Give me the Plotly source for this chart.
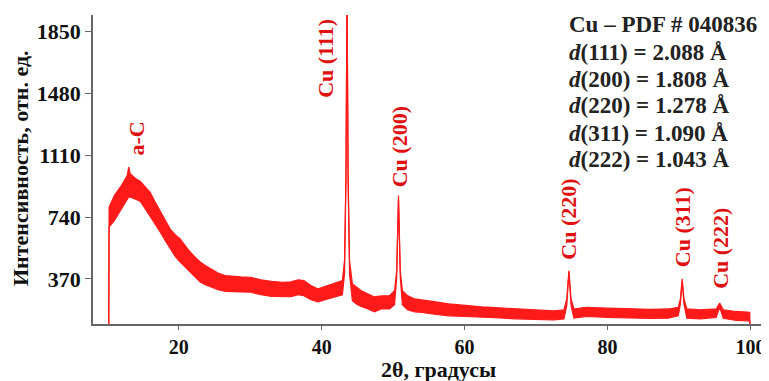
import plotly.graph_objects as go

# 2theta grid (degrees) and envelope of the noisy XRD band (arb. units)
two_theta = [10.2, 10.25, 11.0, 12.0, 12.8, 13.0, 13.2, 14.0, 14.6, 15.3, 16.0, 16.7, 17.4, 18.1,
             18.8, 19.5, 20.2, 20.9, 21.6, 22.3, 23.0, 23.7, 24.5, 25.5, 26.5, 27.5, 28.7, 30.1,
             31.5, 33.0, 34.5, 35.7, 36.7, 37.5, 38.5, 39.5, 40.5, 41.5, 42.3, 42.9,
             43.2, 43.4, 43.55, 43.7, 43.9, 44.3, 44.85, 45.5, 46.5, 47.4, 48.4, 49.5,
             50.2, 50.5, 50.75, 51.0, 51.3, 52.0, 53.0, 54.0, 55.5, 57.8, 60.0, 62.4, 65.0,
             67.0, 70.0, 72.5, 73.9, 74.3, 74.6, 74.9, 75.3, 77.0, 80.0, 83.0, 86.0, 88.5,
             89.9, 90.2, 90.45, 90.7, 91.1, 93.0, 95.2, 95.7, 96.2, 98.0, 99.9, 100.0]
upper = [0, 800, 870, 930, 990, 1040, 1000, 970, 955, 920, 889, 830, 776, 720,
         668, 635, 609, 570, 531, 500, 471, 450, 430, 405, 390, 385, 382, 380,
         365, 355, 350, 352, 365, 360, 330, 310, 325, 340, 350, 360,
         480, 1000, 2100, 1000, 480, 340, 322, 300, 280, 262, 268, 270,
         300, 420, 870, 420, 300, 270, 250, 245, 235, 220, 210, 203, 196,
         191, 183, 178, 185, 250, 420, 250, 190, 200, 195, 190, 188, 190,
         200, 250, 370, 250, 190, 185, 190, 225, 185, 175, 170, 0]
lower = [0, 680, 720, 790, 850, 860, 860, 845, 836, 790, 746, 700, 651, 600,
         549, 505, 471, 440, 412, 380, 352, 335, 322, 305, 295, 292, 292, 290,
         275, 265, 262, 263, 275, 270, 245, 233, 245, 258, 265, 275,
         400, 950, 2100, 950, 400, 240, 220, 205, 190, 173, 191, 190,
         215, 380, 850, 380, 215, 185, 173, 170, 160, 149, 146, 143, 136,
         131, 127, 125, 130, 210, 410, 210, 135, 145, 140, 135, 133, 135,
         150, 220, 360, 220, 135, 130, 140, 200, 135, 122, 118, 0]

# peak labels
peak_labels = ["a-C", "Cu (111)", "Cu (200)", "Cu (220)", "Cu (311)", "Cu (222)"]
peak_label_x = [14.05, 40.6, 50.9, 74.5, 90.6, 95.8]
peak_label_y = [1098, 1445, 907, 471, 430, 298]

info_lines = ["<b>Cu – PDF # 040836</b>",
              "<b><i>d</i>(111) = 2.088 Å</b>",
              "<b><i>d</i>(200) = 1.808 Å</b>",
              "<b><i>d</i>(220) = 1.278 Å</b>",
              "<b><i>d</i>(311) = 1.090 Å</b>",
              "<b><i>d</i>(222) = 1.043 Å</b>"]

y_ticks = [370, 740, 1110, 1480, 1850]
x_ticks = [20, 40, 60, 80, 100]
x_title = "<b>2θ, градусы</b>"
y_title = "<b>Интенсивность, отн. ед.</b>"

RED = "#ff1a1a"
SERIF = "Liberation Serif"
OFF = 8  # page body margin
W, H = 769 - OFF, 381 - OFF
ML, MR, MT, MB = 93 - OFF, 0, 15 - OFF, 381 - 324
PW, PH = W - ML - MR, H - MT - MB


def px_x(px):
    return (px - OFF - ML) / PW


def px_y(py):
    return 1 - (py - OFF - MT) / PH


fig = go.Figure()
fig.add_trace(go.Scatter(x=two_theta, y=lower, mode="lines",
                         line=dict(color=RED, width=1.2), hoverinfo="skip"))
fig.add_trace(go.Scatter(x=two_theta, y=upper, mode="lines", fill="tonexty",
                         fillcolor=RED, line=dict(color=RED, width=1.2), hoverinfo="skip"))

for t, x, y in zip(peak_labels, peak_label_x, peak_label_y):
    fig.add_annotation(x=x, y=y, xref="x", yref="y", text="<b>" + t + "</b>",
                       textangle=-90, showarrow=False, xanchor="center", yanchor="bottom",
                       font=dict(family=SERIF, size=22, color="#e01010"))

line_y_px = [25, 53, 79, 106, 133, 159]
for t, py in zip(info_lines, line_y_px):
    fig.add_annotation(x=px_x(567), y=px_y(py), xref="paper", yref="paper", text=t,
                       showarrow=False, xanchor="left", yanchor="middle",
                       font=dict(family=SERIF, size=23, color="#222222"))

fig.add_annotation(x=px_x(438), y=px_y(369), xref="paper", yref="paper", text=x_title,
                   showarrow=False, xanchor="center", yanchor="middle",
                   font=dict(family=SERIF, size=22, color="#111111"))
fig.add_annotation(x=px_x(20), y=px_y(168), xref="paper", yref="paper", text=y_title,
                   showarrow=False, xanchor="center", yanchor="middle", textangle=-90,
                   font=dict(family=SERIF, size=22, color="#111111"))

fig.update_layout(
    width=W, height=H, margin=dict(l=ML, r=MR, t=MT, b=MB, autoexpand=False),
    paper_bgcolor="white", plot_bgcolor="white", showlegend=False,
    xaxis=dict(range=[8, 102.6], tickvals=x_ticks, ticks="outside", ticklen=4,
               automargin=False,
               showgrid=False, zeroline=False, showline=True, linecolor="#666666",
               linewidth=1.5, tickcolor="#666666",
               tickfont=dict(family=SERIF, size=20, color="#111111", weight="bold")),
    yaxis=dict(range=[100, 1950], tickvals=y_ticks, ticks="outside", ticklen=6,
               automargin=False,
               showgrid=False, zeroline=False, showline=True, linecolor="#666666",
               linewidth=1.5, tickcolor="#666666",
               tickfont=dict(family=SERIF, size=22, color="#111111", weight="bold")),
)

fig.write_html("out.html")
